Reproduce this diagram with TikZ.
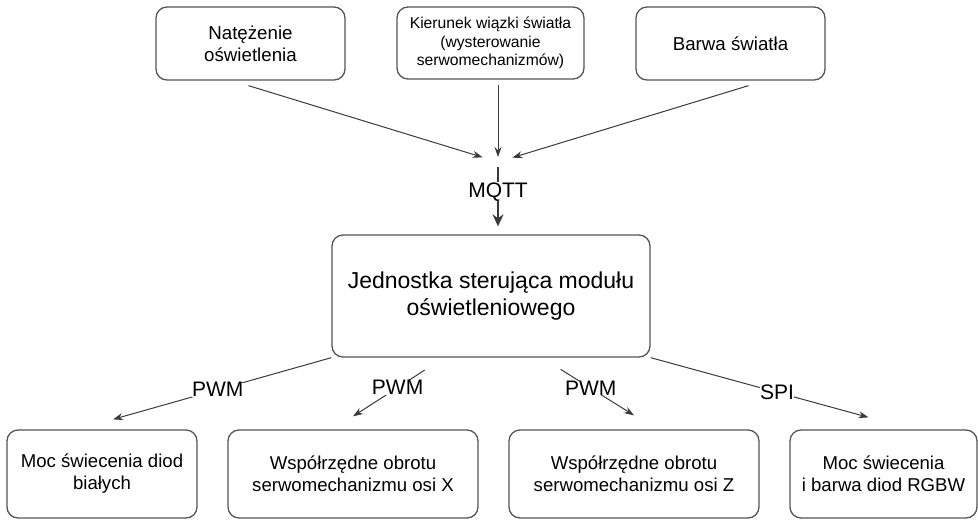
\documentclass[tikz,border=0pt]{standalone}
\usepackage{fontspec}
\setmainfont{Liberation Sans}
\usetikzlibrary{arrows.meta}
\definecolor{ramka}{HTML}{555555}
\definecolor{strzalka}{HTML}{3A3A3A}
\begin{document}
\begin{tikzpicture}[x=1pt, y=-1pt,
    box/.style={draw=ramka, line width=1.3pt, rounded corners=11pt, align=center, inner sep=0pt},
    conn/.style={draw=strzalka, line width=1pt, -{Stealth[length=10pt, width=7pt]}},
    lbl/.style={fill=white, inner sep=0pt, font=\fontsize{21}{25}\selectfont}]
    \useasboundingbox (0, 0) rectangle (978, 520) ;
    \node[box, minimum width=189pt, minimum height=73pt, font=\fontsize{18.7}{22}\selectfont] (natez) at (250.5, 43.5) {Natężenie\\oświetlenia} ;
    \node[box, minimum width=187pt, minimum height=72pt, font=\fontsize{15.7}{18.5}\selectfont] (kierunek) at (490.5, 43) {Kierunek wiązki światła\\(wysterowanie\\serwomechanizmów)} ;
    \node[box, minimum width=189pt, minimum height=73pt, font=\fontsize{18.7}{22}\selectfont] (barwa) at (730.5, 43.5) {Barwa światła} ;
    \node[box, minimum width=318pt, minimum height=122pt, font=\fontsize{23}{27}\selectfont] (jednostka) at (491, 296) {Jednostka sterująca modułu\\oświetleniowego} ;
    \node[box, minimum width=190pt, minimum height=88pt, font=\fontsize{18.6}{22}\selectfont] (biale) at (102, 474) {Moc świecenia diod\\białych} ;
    \node[box, minimum width=250pt, minimum height=88pt, font=\fontsize{18.6}{22}\selectfont] (osx) at (353, 474) {Współrzędne obrotu\\serwomechanizmu osi X} ;
    \node[box, minimum width=250pt, minimum height=88pt, font=\fontsize{18.6}{22}\selectfont] (osz) at (634, 474) {Współrzędne obrotu\\serwomechanizmu osi Z} ;
    \node[box, minimum width=187pt, minimum height=88pt, font=\fontsize{18.6}{22}\selectfont] (rgbw) at (883.5, 474) {Moc świecenia\\i barwa diod RGBW} ;
    \coordinate (hub) at (498, 162) ;
    \draw[conn, shorten >=16pt] ([xshift=-2pt, yshift=-5pt]natez.south) -- (hub) ;
    \draw[conn, shorten >=5pt] ([xshift=7.5pt, yshift=-5pt]kierunek.south) -- (hub) ;
    \draw[conn, shorten >=15pt] ([xshift=18pt, yshift=-5pt]barwa.south) -- (hub) ;
    \draw[conn, line width=2pt, -{Stealth[length=12pt, width=11pt]}, shorten <=5pt, shorten >=8pt] (hub) -- ([xshift=7pt]jednostka.north) node[lbl, pos=0.41] {MQTT} ;
    \draw[conn] (jednostka.south west) -- ([xshift=11pt, yshift=10pt]biale.north) node[lbl, pos=0.52] {PWM} ;
    \draw[conn, shorten <=23pt] ([xshift=-47pt]jednostka.south) -- ([yshift=13pt]osx.north) node[lbl, pos=0.51] {PWM} ;
    \draw[conn, shorten <=22pt] ([xshift=51pt]jednostka.south) -- ([yshift=14pt]osz.north) node[lbl, pos=0.53] {PWM} ;
    \draw[conn] (jednostka.south east) -- ([xshift=-15pt, yshift=12pt]rgbw.north) node[lbl, pos=0.58] {SPI} ;
  \end{tikzpicture}
\end{document}
